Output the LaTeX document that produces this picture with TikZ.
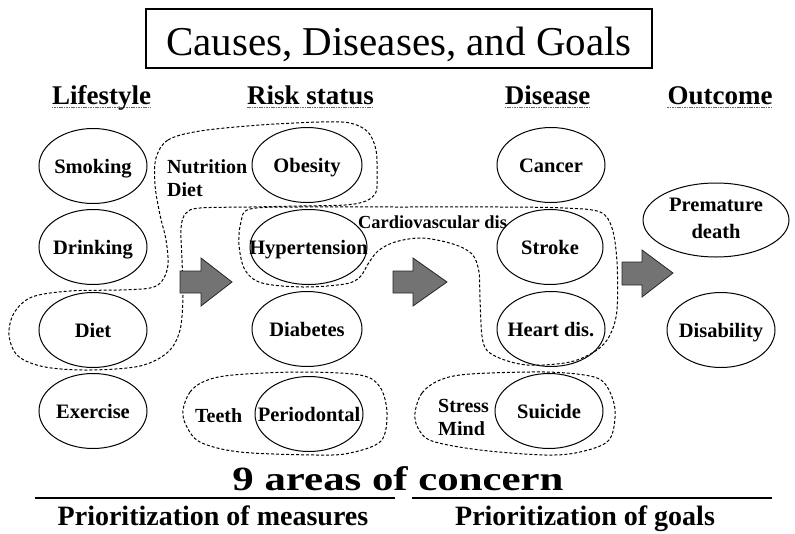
\documentclass[tikz,border=0pt]{standalone}
\usepackage{graphicx}
\usepackage{fontspec}
\setmainfont{Liberation Serif}[BoldFont={Liberation Serif Bold}]
\usetikzlibrary{shapes.geometric}

\tikzset{
  ellbase/.style={ellipse, draw, line width=1pt, minimum width=108pt, minimum height=75pt,
              inner sep=0pt, font=\fontsize{20.5}{24}\selectfont\bfseries},
  ell/.style={ellbase, text height=14pt, text depth=0pt},
  hdr/.style={anchor=base, inner sep=0pt, font=\fontsize{27}{30}\selectfont\bfseries},
  uline/.style={draw=black!60, line width=1.4pt, dash pattern=on 1.6pt off 0.8pt},
  zone/.style={draw, line width=1pt, dash pattern=on 3pt off 2pt},
  blockarrow/.style={fill=black!55, draw=black!85, line width=0.8pt},
  lbl/.style={anchor=base west, inner sep=0pt, font=\fontsize{20}{23}\selectfont\bfseries},
  foot/.style={anchor=base, inner sep=0pt, font=\fontsize{28}{30}\selectfont\bfseries},
  rulebar/.style={line width=2.6pt},
}

\begin{document}
\begin{tikzpicture}[x=1pt, y=-1pt]
\useasboundingbox (0,0) rectangle (795,533);

% title
\node[draw, line width=1.5pt, minimum width=506pt, minimum height=59pt, inner sep=0pt]
  (titlebox) at (399,38.5) {};
\node[anchor=base, inner sep=0pt, font=\fontsize{41}{44}\selectfont] (title) at (399,55)
  {Causes, Diseases, and Goals};

% column headers
\node[hdr] (hlife) at (101.5,104) {Lifestyle};
\node[hdr] (hrisk) at (310.5,104) {Risk status};
\node[hdr] (hdis)  at (547.5,104) {Disease};
\node[hdr] (hout)  at (720,104) {Outcome};
\foreach \h in {hlife,hrisk,hdis,hout}
  \draw[uline] ([yshift=-3.5pt]\h.base west) -- ([yshift=-3.5pt]\h.base east);

% dashed groupings
\draw[zone] plot[smooth cycle, tension=0.55] coordinates {
  (156,158) (168,140) (200,131) (260,125) (320,122) (350,123) (368,132) (376,150)
  (377,175) (376,192) (366,201) (345,205) (300,206) (250,207) (200,208) (186,213)
  (181,228) (182,260) (183,295) (180,330) (168,352) (140,366) (90,370) (45,367)
  (18,356) (9,335) (14,313) (32,297) (70,291) (120,290) (150,288) (162,281)
  (168,265) (166,240) (160,215) (155,185)};
\draw[zone] plot[smooth cycle, tension=0.55] coordinates {
  (250,209) (300,207) (400,207) (500,207) (565,208) (600,212) (612,228) (617,262)
  (617,310) (610,335) (597,350) (570,362) (527,365) (495,356) (483,342) (480,300)
  (479,272) (472,254) (453,244) (422,238) (395,242) (378,251) (368,264) (360,277)
  (345,284) (303,287) (262,283) (245,270) (239,245) (241,222)};
\draw[zone] plot[smooth cycle, tension=0.55] coordinates {
  (183,410) (190,392) (205,381) (233,375) (300,372) (360,375) (380,387) (387,413)
  (381,441) (350,453) (317,455) (240,452) (200,442) (186,425)};
\draw[zone] plot[smooth cycle, tension=0.55] coordinates {
  (415,413) (422,393) (440,380) (470,374) (545,372) (590,376) (606,385) (615,410)
  (609,440) (580,452) (545,455) (480,450) (432,441) (418,428)};

% lifestyle
\node[ell] (smoking)  at (93,166) {\makebox[0pt]{Smoking}};
\node[ell] (drinking) at (93,247) {\makebox[0pt]{Drinking}};
\node[ell] (diet)     at (93,330) {\makebox[0pt]{Diet}};
\node[ell] (exercise) at (93,411) {\makebox[0pt]{Exercise}};

% risk status
\node[ell, minimum width=110pt] (obesity) at (307,165) {\makebox[0pt]{Obesity}};
\node[ell, minimum width=117pt] (hyper)   at (308.5,247) {\makebox[0pt]{Hypertension}};
\node[ell, minimum width=110pt] (diab)    at (307,329) {\makebox[0pt]{Diabetes}};
\node[ell, minimum width=108pt] (perio)   at (309,414) {\makebox[0pt]{Periodontal}};

% disease
\node[ell] (cancer)  at (551,165) {\makebox[0pt]{Cancer}};
\node[ell, minimum width=106pt] (stroke)  at (550,247) {\makebox[0pt]{Stroke}};
\node[ell] (heart)   at (551,329) {\makebox[0pt]{Heart dis.}};
\node[ell] (suicide) at (549,411) {\makebox[0pt]{Suicide}};

% outcome
\node[ellbase, minimum width=146pt, minimum height=74pt] (premature) at (716,220)
  {\makebox[0pt]{\begin{tabular}{@{}c@{}}Premature\\[3pt]death\end{tabular}}};
\node[ell] (disab) at (721,330) {\makebox[0pt]{Disability}};

% group labels
\node[lbl] (nutr)   at (167,173) {Nutrition};
\node[lbl] (ndiet)  at (167,196) {Diet};
\node[lbl, font=\fontsize{18.4}{21}\selectfont\bfseries] (cardio) at (358,228) {Cardiovascular dis};
\node[lbl] (teeth)  at (195,422) {Teeth};
\node[lbl] (stress) at (438,412) {Stress};
\node[lbl] (mind)   at (438,435) {Mind};

% block arrows between columns
\draw[blockarrow] (180,271) -- (201,271) -- (201,258) -- (232,282) -- (201,306)
  -- (201,293) -- (180,293) -- cycle;
\draw[blockarrow] (393,271) -- (413,271) -- (413,258) -- (447,282) -- (413,306)
  -- (413,293) -- (393,293) -- cycle;
\draw[blockarrow] (622,262) -- (642,262) -- (642,250) -- (673,273) -- (642,297)
  -- (642,285) -- (622,285) -- cycle;

% bottom
\node[anchor=base, inner sep=0pt, font=\fontsize{34}{36}\selectfont\bfseries] (areas)
  at (398,490) {\scalebox{1.26}[1]{9 areas of concern}};
\draw[rulebar] (35,498) -- (395,498);
\draw[rulebar] (412,498) -- (772,498);
\node[foot] (measures) at (213,525) {Prioritization of measures};
\node[foot] (goals)    at (585,525) {Prioritization of goals};
\end{tikzpicture}
\end{document}
